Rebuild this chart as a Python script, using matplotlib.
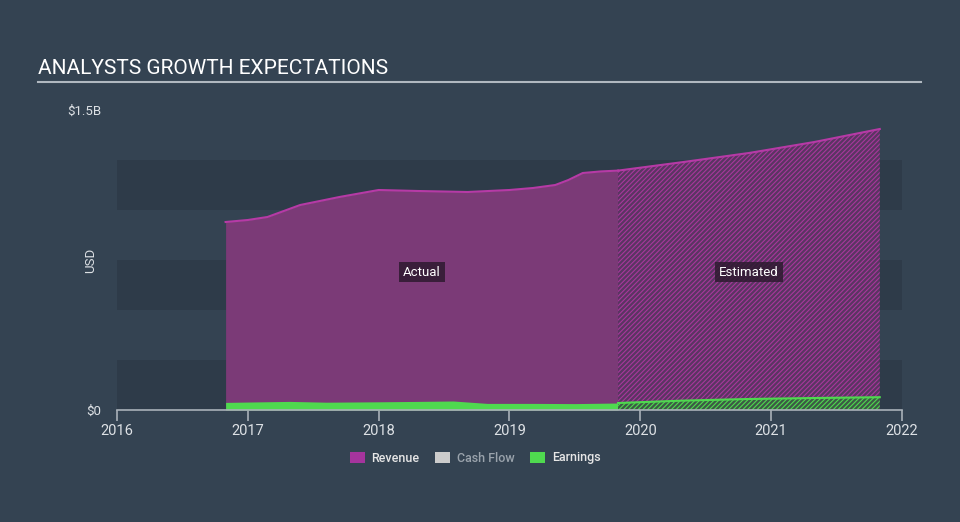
import matplotlib
matplotlib.use('Agg')
import matplotlib.pyplot as plt
from matplotlib.patches import Patch
from matplotlib.lines import Line2D

plt.rcParams['font.family'] = ['Roboto', 'DejaVu Sans']
plt.rcParams['hatch.linewidth'] = 0.8

# revenue (USD billions)
rev_act_x = [2016.83, 2017.0, 2017.15, 2017.4, 2017.7, 2018.0, 2018.3, 2018.68,
             2019.0, 2019.18, 2019.35, 2019.45, 2019.56, 2019.7, 2019.83]
rev_act_y = [0.94, 0.95, 0.965, 1.025, 1.065, 1.10, 1.095, 1.09,
             1.10, 1.11, 1.125, 1.15, 1.185, 1.193, 1.197]
rev_est_x = [2019.83, 2020.33, 2020.83, 2021.33, 2021.83]
rev_est_y = [1.197, 1.24, 1.285, 1.34, 1.405]

# earnings (USD billions)
earn_act_x = [2016.83, 2017.32, 2017.6, 2018.0, 2018.3, 2018.57, 2018.83,
              2019.2, 2019.5, 2019.83]
earn_act_y = [0.038, 0.043, 0.039, 0.041, 0.043, 0.045, 0.033,
              0.033, 0.032, 0.035]
earn_est_x = [2019.83, 2020.33, 2020.83, 2021.33, 2021.83]
earn_est_y = [0.035, 0.047, 0.055, 0.06, 0.064]

years = [2016, 2017, 2018, 2019, 2020, 2021, 2022]

bg = '#344352'
band = '#2e3b49'
rev_fill = '#7b3a77'
rev_line = '#b63aa6'
green = '#4fd94f'
grey = '#a9b1b9'

fig = plt.figure(figsize=(9.6, 5.22), dpi=100)
fig.patch.set_facecolor(bg)

ax = fig.add_axes([117 / 960, 1 - 410 / 522, 785 / 960, 300 / 522])
ax.set_facecolor(bg)
ax.set_xlim(2016, 2022)
ax.set_ylim(0, 1.5)

for lo in (0.0, 0.5, 1.0):
    ax.axhspan(lo, lo + 0.25, color=band, lw=0, zorder=0)

# actual
ax.fill_between(rev_act_x, 0, rev_act_y, color=rev_fill, lw=0, zorder=2)
ax.plot(rev_act_x, rev_act_y, color=rev_line, lw=1.5, zorder=3)
ax.fill_between(earn_act_x, 0, earn_act_y, color=green, lw=0, zorder=4)

# estimated (hatched)
ax.fill_between(rev_est_x, 0, rev_est_y, facecolor='#5a3562', edgecolor='#a8379c',
                hatch='///////', lw=0, zorder=2)
ax.plot(rev_est_x, rev_est_y, color=rev_line, lw=1.5, zorder=3)
ax.fill_between(earn_est_x, 0, earn_est_y, facecolor='#3c5a45', edgecolor=green,
                hatch='///////', lw=0, zorder=4)
ax.plot(earn_est_x, earn_est_y, color=green, lw=1.5, zorder=5)

box = dict(boxstyle='square,pad=0.3', fc='#2e1a30', ec='none', alpha=0.85)
ax.text(2018.33, 0.69, 'Actual', color='white', fontsize=9.5, ha='center',
        va='center', bbox=box, zorder=6)
ax.text(2020.83, 0.69, 'Estimated', color='white', fontsize=9.5, ha='center',
        va='center', bbox=box, zorder=6)

for s in ('top', 'right', 'left'):
    ax.spines[s].set_visible(False)
ax.spines['bottom'].set_color(grey)
ax.spines['bottom'].set_linewidth(1.2)
ax.spines['bottom'].set_zorder(7)

ax.set_xticks(years)
ax.set_xticklabels([str(y) for y in years])
ax.tick_params(axis='x', colors=grey, length=8, width=1.2, labelcolor='#dde1e5',
               labelsize=10.5, pad=2)
ax.set_yticks([0, 1.5])
ax.set_yticklabels(['$0', '$1.5B'])
ax.tick_params(axis='y', length=0, labelcolor='#dde1e5', labelsize=9.5, pad=11)
ax.set_ylabel('USD', color='#dde1e5', fontsize=9.5)
ax.yaxis.set_label_coords(-0.025, 0.5)

fig.text(38 / 960, 1 - 68 / 522, 'ANALYSTS GROWTH EXPECTATIONS', color='white',
         fontsize=15, va='center', ha='left')
fig.add_artist(Line2D([38 / 960, 921 / 960], [1 - 82 / 522, 1 - 82 / 522],
                      color='#b0b8c0', lw=1.5))

handles = [Patch(facecolor='#a5349d', edgecolor='none'),
           Patch(facecolor='#cccccc', edgecolor='none'),
           Patch(facecolor=green, edgecolor='none')]
leg = fig.legend(handles, ['Revenue', 'Cash Flow', 'Earnings'], ncol=3,
                 loc='center', bbox_to_anchor=(475 / 960, 1 - 458 / 522),
                 frameon=False, prop={'size': 9, 'weight': 'medium'},
                 handlelength=1.2, handleheight=1.0,
                 columnspacing=1.3, handletextpad=0.5)
for t, c in zip(leg.get_texts(), ['#e6e6e6', '#9aa3ac', '#e6e6e6']):
    t.set_color(c)

fig.savefig('out.png', dpi=100, facecolor=bg)
